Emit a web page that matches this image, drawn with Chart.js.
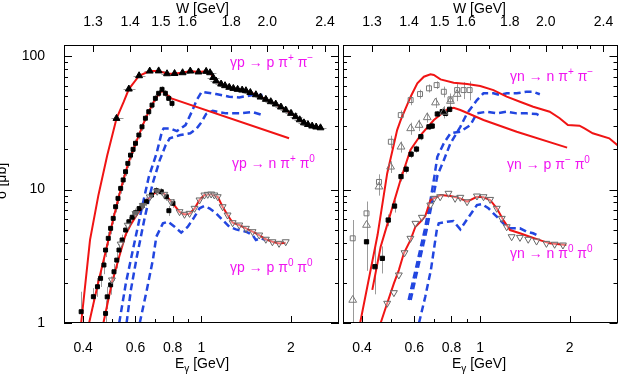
<!DOCTYPE html>
<html>
<head>
<meta charset="utf-8">
<script src="https://cdn.jsdelivr.net/npm/chart.js@4.4.0/dist/chart.umd.min.js"></script>
<style>
html, body { margin: 0; padding: 0; background: #fff; }
#wrap { position: relative; width: 623px; height: 374px; overflow: hidden; }
canvas { position: absolute; left: 0; top: 0; }
</style>
</head>
<body>
<div id="wrap">
  <canvas id="leftPanel" width="623" height="374"></canvas>
  <canvas id="rightPanel" width="623" height="374"></canvas>
</div>
<script>
// axis ranges and tick lists
const E_MIN = 0.345, E_MAX = 2.9, S_MIN = 1, S_MAX = 121;
const xTicks = [0.4, 0.5, 0.6, 0.7, 0.8, 0.9, 1, 2];
const xLabels = [0.4, 0.6, 0.8, 1, 2];
const wTicks = [1.3, 1.4, 1.5, 1.6, 1.7, 1.8, 1.9, 2.0, 2.1, 2.2, 2.3, 2.4];
const wLabels = [1.3, 1.4, 1.5, 1.6, 1.8, 2.0, 2.4];
const yTicks = [1, 2, 3, 4, 5, 6, 7, 8, 9, 10, 20, 30, 40, 50, 60, 70, 80, 90, 100];
const yLabels = [1, 10, 100];
const M_P = 0.938;
const wToE = w => (w * w - M_P * M_P) / (2 * M_P);

// ---- left panel: proton target ----
// gamma p -> p pi+ pi-
const ppPipPimE = [0.518, 0.570, 0.617, 0.670, 0.718, 0.766, 0.812, 0.864, 0.917, 0.977, 1.037, 1.069, 1.095, 1.12, 1.164, 1.20, 1.24, 1.28, 1.323, 1.37, 1.411, 1.46, 1.524, 1.58, 1.646, 1.71, 1.777, 1.85, 1.92, 2.0, 2.073, 2.14, 2.211, 2.28, 2.356, 2.43, 2.513];
const ppPipPimS = [34.1, 56.6, 71.2, 77.2, 77.4, 73.7, 74, 75, 77.2, 76, 76.8, 75, 69, 65, 61.7, 60, 58.3, 57.2, 56.3, 55.6, 55, 53.3, 51.3, 49.3, 47.4, 45.5, 43.7, 41.5, 39.4, 37.2, 35.1, 33.3, 31.6, 30.7, 29.9, 29.4, 29.0];
const ppPipPimFitE = [0.394, 0.422, 0.45, 0.482, 0.518, 0.548, 0.570, 0.617, 0.670, 0.718, 0.766, 0.812, 0.864, 0.917, 0.977, 1.037, 1.069, 1.12, 1.164, 1.24, 1.323, 1.411, 1.524, 1.646, 1.777, 1.92, 2.073, 2.211, 2.356, 2.513];
const ppPipPimFitS = [1, 4.2, 9, 18, 34, 45.5, 56.6, 71.2, 77.2, 77.4, 73.7, 74, 75, 77.2, 76, 76.8, 75, 65, 61.7, 58.3, 56.3, 55, 51.3, 47.4, 43.7, 39.4, 35.1, 31.6, 29.9, 29.0];
const ppPipPimOldE = [0.529, 0.557, 0.588, 0.625, 0.665, 0.707, 0.737, 0.746, 0.786, 0.827, 0.884, 0.928, 0.964, 1.002, 1.05, 1.12, 1.24, 1.34, 1.485, 1.603];
const ppPipPimOldS = [1, 1.99, 3.52, 6.67, 12.4, 18.8, 27.4, 28.7, 28.7, 27.4, 30.4, 38.3, 46.8, 54.0, 53.1, 51.9, 49.6, 49.0, 51.0, 51.0];

// gamma p -> n pi+ pi0
const pnPipPi0E = [0.394, 0.433, 0.447, 0.458, 0.470, 0.476, 0.486, 0.495, 0.505, 0.5145, 0.524, 0.535, 0.5455, 0.5556, 0.5655, 0.5774, 0.589, 0.600, 0.616, 0.631, 0.648, 0.665, 0.682, 0.700, 0.718, 0.737, 0.756, 0.776, 0.796];
const pnPipPi0S = [1.215, 1.574, 1.87, 2.16, 2.72, 3.52, 4.31, 5.12, 6.08, 7.43, 8.59, 10.2, 11.8, 13.6, 15.7, 18.1, 20, 22.2, 25.6, 29.5, 34.2, 38.3, 42.9, 48.2, 52.6, 56.3, 52.6, 48.2, 44.2];
const pnPipPi0Err = [0.5, 0.25, 0.3, 0.3, 0.4, 0.4, 0.5, 0.5, 0.6, 0.7, 0.8, 0.9, 1, 1, 1.2, 1.3, 1.5, 1.5, 1.8, 2, 2, 2.5, 2.5, 3, 3, 3, 3, 3, 3];
const pnPipPi0FitE = [0.419, 0.447, 0.476, 0.505, 0.535, 0.566, 0.600, 0.648, 0.700, 0.737, 0.792, 1.97];
const pnPipPi0FitS = [1, 1.9, 3.4, 6.0, 10.0, 15.5, 22, 34, 48, 55, 48.2, 24.2];
const pnPipPi0OldE = [0.560, 0.579, 0.606, 0.645, 0.686, 0.724, 0.758, 0.782, 0.849, 0.917, 0.964, 1.002, 1.037, 1.091, 1.21, 1.34, 1.485, 1.603];
const pnPipPi0OldS = [1, 1.77, 3.12, 6.22, 11.2, 16.6, 21.5, 24.2, 25.6, 26.4, 28.7, 32.2, 36.8, 38.9, 37.2, 37.2, 38.1, 36.1];

// gamma p -> p pi0 pi0
const ppPi0Pi0E = [0.476, 0.482, 0.495, 0.508, 0.519, 0.528, 0.541, 0.556, 0.570, 0.585, 0.600, 0.617, 0.633, 0.653, 0.679, 0.705, 0.733, 0.762, 0.777, 0.802];
const ppPi0Pi0S = [1.18, 1.57, 1.93, 2.42, 2.96, 3.52, 4.19, 4.97, 5.74, 6.2, 6.7, 7.2, 7.6, 8.11, 9.09, 9.8, 9.63, 8.83, 6.94, 7.88];
const ppPi0Pi0Err = [0.3, 0.3, 0.3, 0.35, 0.4, 0.4, 0.4, 0.5, 0.5, 0.5, 0.5, 0.5, 0.5, 0.6, 0.6, 0.6, 0.6, 0.6, 0.6, 0.6];
const ppPi0Pi0bE = [0.50, 0.535, 0.565, 0.60, 0.635, 0.67, 0.71, 0.75, 0.79, 0.844, 0.877, 0.912, 0.948, 0.985, 1.023, 1.05, 1.078, 1.105, 1.134, 1.178, 1.224, 1.273, 1.34, 1.411, 1.485, 1.564, 1.646, 1.732, 1.823, 1.92];
const ppPi0Pi0bS = [2.1, 3.9, 5.4, 6.6, 7.6, 8.8, 9.7, 9.2, 8.1, 6.82, 6.52, 6.63, 7.23, 8.35, 9.09, 9.2, 9.25, 9.1, 8.83, 7.43, 6.44, 5.64, 5.42, 5.12, 4.83, 4.56, 4.24, 4.06, 3.95, 4.06];
const ppPi0Pi0FitE = [0.468, 0.50, 0.528, 0.556, 0.577, 0.62, 0.656, 0.69, 0.72, 0.75, 0.80, 0.844, 0.877, 0.912, 0.948, 0.985, 1.023, 1.078, 1.134, 1.178, 1.224, 1.273, 1.340, 1.411, 1.485, 1.564, 1.646, 1.732, 1.823, 1.92];
const ppPi0Pi0FitS = [1, 2.0, 3.1, 4.6, 5.4, 7.0, 8.3, 9.3, 9.7, 9.3, 7.9, 6.8, 6.5, 6.6, 7.2, 8.35, 9.09, 9.25, 8.83, 7.43, 6.44, 5.64, 5.42, 5.12, 4.83, 4.56, 4.24, 4.06, 3.95, 4.0];
const ppPi0Pi0OldE = [0.620, 0.655, 0.687, 0.705, 0.742, 0.772, 0.812, 0.855, 0.900, 0.948, 0.985, 1.023, 1.063, 1.12, 1.178, 1.24, 1.306, 1.411, 1.485, 1.524, 1.584, 1.646];
const ppPi0Pi0OldS = [1, 1.77, 3.0, 4.43, 5.58, 5.74, 5.26, 4.75, 5.26, 6.26, 7.23, 7.52, 7.23, 6.63, 5.91, 5.26, 5.03, 4.83, 4.56, 4.19, 4.31, 4.19];

// ---- right panel: neutron target ----
// gamma n -> n pi+ pi-
const nnPipPimE = [0.372, 0.414, 0.456, 0.5, 0.540, 0.583, 0.627, 0.672, 0.713, 0.754, 0.794, 0.836, 0.879, 0.921];
const nnPipPimS = [4.31, 6.63, 11.4, 22.8, 36.1, 46.8, 51.9, 57.3, 60.6, 54.0, 47.4, 55.6, 55.6, 55.6];
const nnPipPimErr = [1.6, 1.5, 1.6, 2.5, 3, 4, 4, 4, 4, 5, 5, 6, 8, 9];
const nnPipPimFitE = [0.394, 0.451, 0.486, 0.525, 0.540, 0.583, 0.614, 0.646, 0.680, 0.698, 0.735, 0.814, 0.903, 1.0, 1.108, 1.228, 1.361, 1.508, 1.714, 1.852, 1.974, 2.16, 2.245, 2.393, 2.72, 2.90];
const nnPipPimFitS = [1, 4.56, 13.2, 27.9, 33.2, 49.6, 62.4, 70.0, 72.9, 72.1, 66.9, 63.1, 61.7, 59.6, 55.6, 49.6, 45.5, 41.7, 38.3, 34.2, 30.4, 30.1, 28.7, 26.4, 24.2, 21.5];
const nnPipPimOldE = [0.583, 0.620, 0.660, 0.691, 0.718, 0.754, 0.794, 0.857, 0.903, 0.975, 1.026, 1.108, 1.166, 1.228, 1.327, 1.433, 1.508, 1.588];
const nnPipPimOldS = [1.487, 2.72, 4.97, 8.35, 12.8, 16.6, 22.2, 29.5, 37.2, 46.8, 52.6, 52.6, 51.0, 52.6, 52.6, 54.0, 54.0, 51.7];

// gamma n -> p pi- pi0
const npPimPi0aE = [0.372, 0.414, 0.456, 0.499, 0.541, 0.583, 0.622, 0.663, 0.707, 0.754, 0.794, 0.836];
const npPimPi0aS = [1.487, 5.42, 10.5, 14.8, 20.9, 28.7, 30.4, 34.7, 44.8, 38.1, 46.0, 51.9];
const npPimPi0aErr = [1.3, 1.2, 1.5, 1.5, 2, 3, 3, 3, 4, 4, 5, 6];
const npPimPi0bE = [0.414, 0.442, 0.468, 0.490, 0.5145, 0.541, 0.563, 0.585, 0.610, 0.631, 0.672, 0.689, 0.717, 0.745, 0.764, 0.789];
const npPimPi0bS = [4.06, 2.64, 3.05, 5.91, 7.52, 12.5, 14.2, 18.4, 20.1, 24.9, 29.5, 29.9, 36.8, 38.3, 37.2, 39.9];
const npPimPi0bErr = [1.6, 1.0, 0.7, 0.6, 0.8, 1, 1, 1.2, 1.2, 1.5, 1.5, 1.5, 2, 2, 2, 2];
const npPimPi0FitE = [0.433, 0.462, 0.499, 0.539, 0.582, 0.630, 0.698, 0.774, 0.814, 0.857, 1.026, 1.327, 1.962];
const npPimPi0FitS = [1.77, 3.73, 6.63, 11.8, 19.8, 25.6, 33.2, 39.9, 41.0, 39.4, 33.2, 27.1, 20.6];
const npPimPi0OldE = [0.574, 0.611, 0.650, 0.680, 0.702, 0.717, 0.754, 0.794, 0.857, 0.926, 0.975, 1.053, 1.137, 1.228, 1.327, 1.433, 1.548, 1.609];
const npPimPi0OldS = [1.487, 2.72, 4.97, 8.35, 12.8, 17.6, 22.2, 26.4, 27.1, 30.4, 37.2, 38.3, 37.2, 38.3, 37.2, 37.2, 36.8, 35.1];

// gamma n -> n pi0 pi0
const nnPi0Pi0E = [0.486, 0.512, 0.532, 0.556, 0.582, 0.605, 0.636, 0.679, 0.699, 0.733, 0.782, 0.823, 0.857, 0.903, 0.975, 1.026, 1.08, 1.137, 1.182, 1.228, 1.276, 1.361, 1.451, 1.548, 1.671, 1.781, 1.899];
const nnPi0Pi0S = [1.405, 1.687, 2.29, 3.36, 4.31, 5.58, 6.19, 7.65, 8.59, 8.83, 9.37, 8.59, 8.74, 8.1, 8.94, 8.83, 8.43, 7.23, 6.08, 5.26, 4.43, 4.38, 4.24, 4.11, 3.95, 3.89, 3.84];
const nnPi0Pi0FitE = [0.462, 0.486, 0.512, 0.532, 0.553, 0.582, 0.605, 0.629, 0.653, 0.680, 0.735, 0.794, 0.857, 0.903, 0.975, 1.026, 1.08, 1.137, 1.196, 1.26, 1.361, 1.469, 1.588, 1.714, 1.95];
const nnPi0Pi0FitS = [1, 1.405, 1.98, 2.49, 3.33, 4.18, 5.26, 5.74, 6.33, 8.35, 9.09, 8.94, 8.59, 8.1, 8.83, 8.74, 8.35, 7.23, 5.91, 4.97, 4.70, 4.43, 4.18, 3.95, 3.84];
const nnPi0Pi0OldE = [0.622, 0.653, 0.682, 0.714, 0.725, 0.774, 0.812, 0.857, 0.903, 0.975, 1.013, 1.066, 1.137, 1.196, 1.26, 1.361, 1.433, 1.508, 1.588];
const nnPi0Pi0OldS = [1, 1.574, 2.49, 4.97, 5.58, 5.74, 5.81, 5.03, 5.98, 7.65, 7.79, 7.23, 6.26, 5.58, 5.12, 5.12, 4.83, 4.70, 4.43];

const RED = '#f01414';
const BLUE = '#2246e0';
const MAGENTA = '#f014f0';
const FONT = '"Liberation Sans", Arial, sans-serif';
Chart.defaults.font.family = FONT;

const pts = (xs, ys) => xs.map((x, i) => ({ x: x, y: ys[i] }));

function fitLine(xs, ys) {
    return { data: pts(xs, ys), borderColor: RED, borderWidth: 2, pointRadius: 0, tension: 0, order: 2 };
}
function oldLine(xs, ys) {
    return { data: pts(xs, ys), borderColor: BLUE, borderWidth: 2.5, borderDash: [7, 4], pointRadius: 0, tension: 0, order: 3 };
}
function marks(xs, ys, style, extra) {
    return Object.assign({
        data: pts(xs, ys), showLine: false, pointStyle: style, pointRadius: 3,
        pointBackgroundColor: '#000', pointBorderColor: '#000', pointBorderWidth: 1, order: 1
    }, extra || {});
}
const openDown = { pointRadius: 4, pointRotation: 180, pointBackgroundColor: 'rgba(255,255,255,0.4)', pointBorderColor: '#666', order: 0 };

function scalesFor(showY) {
    return {
        x: {
            type: 'logarithmic', position: 'bottom', min: E_MIN, max: E_MAX, bounds: 'data',
            afterBuildTicks: s => { s.ticks = xTicks.map(v => ({ value: v })); },
            afterFit: s => { s.height = 51; },
            grid: { display: false }, border: { display: false },
            ticks: { autoSkip: false, maxRotation: 0, padding: 9, color: '#000', font: { size: 14 },
                callback: v => xLabels.includes(v) ? String(v) : '' }
        },
        x2: {
            type: 'logarithmic', position: 'top', min: E_MIN, max: E_MAX, bounds: 'data',
            afterBuildTicks: s => { s.ticks = wTicks.map(w => ({ value: wToE(w) })); },
            afterFit: s => { s.height = 45; },
            grid: { display: false }, border: { display: false },
            ticks: { autoSkip: false, maxRotation: 0, padding: 6, color: '#000', font: { size: 14 },
                callback: (v, i) => wLabels.includes(wTicks[i]) ? wTicks[i].toFixed(1) : '' }
        },
        y: {
            type: 'logarithmic', min: S_MIN, max: S_MAX, bounds: 'data',
            afterBuildTicks: s => { s.ticks = yTicks.map(v => ({ value: v })); },
            afterFit: s => { s.width = showY ? 64 : 0; },
            grid: { display: false }, border: { display: false },
            ticks: { display: showY, autoSkip: false, padding: 11, color: '#000', font: { size: 14 },
                callback: v => yLabels.includes(v) ? String(v) : '' }
        }
    };
}

// vertical error bars and horizontal bin bars, under the markers
const errorBars = {
    id: 'errorBars',
    beforeDatasetsDraw(chart) {
        const { ctx, chartArea: a, scales: { x, y } } = chart;
        ctx.save();
        ctx.beginPath();
        ctx.rect(a.left, a.top, a.right - a.left, a.bottom - a.top);
        ctx.clip();
        ctx.strokeStyle = '#9a9a9a';
        ctx.lineWidth = 1;
        ctx.beginPath();
        chart.data.datasets.forEach(ds => {
            if (!ds.err && !ds.hbar) return;
            ds.data.forEach((p, i) => {
                const px = Math.round(x.getPixelForValue(p.x)) + 0.5;
                const py = y.getPixelForValue(p.y);
                if (ds.err) {
                    const e = ds.err[i];
                    ctx.moveTo(px, y.getPixelForValue(p.y + e));
                    ctx.lineTo(px, y.getPixelForValue(Math.max(p.y - e, 0.05)));
                }
                if (ds.hbar) {
                    ctx.moveTo(px - ds.hbar, Math.round(py) + 0.5);
                    ctx.lineTo(px + ds.hbar, Math.round(py) + 0.5);
                }
            });
        });
        ctx.stroke();
        ctx.restore();
    }
};

function drawParts(ctx, x, y, parts) {
    let cx = x;
    parts.forEach(([t, sup, sub]) => {
        ctx.font = (sup || sub ? '10px ' : '14px ') + FONT;
        ctx.fillText(t, cx, sup ? y - 6 : (sub ? y + 4 : y));
        cx += ctx.measureText(t).width;
    });
}

function decor(labels, titleX) {
    return {
        id: 'decor',
        afterDraw(chart) {
            const { ctx, chartArea: a, scales } = chart;
            ctx.save();
            ctx.strokeStyle = '#000';
            ctx.lineWidth = 1;
            ctx.beginPath();
            scales.x.ticks.forEach(t => {
                const p = Math.round(scales.x.getPixelForValue(t.value)) + 0.5;
                const len = xLabels.includes(t.value) ? 7 : 4;
                ctx.moveTo(p, a.bottom); ctx.lineTo(p, a.bottom - len);
            });
            scales.x2.ticks.forEach((t, i) => {
                const p = Math.round(scales.x2.getPixelForValue(t.value)) + 0.5;
                const len = wLabels.includes(wTicks[i]) ? 7 : 4;
                ctx.moveTo(p, a.top); ctx.lineTo(p, a.top + len);
            });
            scales.y.ticks.forEach(t => {
                const p = Math.round(scales.y.getPixelForValue(t.value)) + 0.5;
                const len = yLabels.includes(t.value) ? 8 : 4;
                ctx.moveTo(a.left, p); ctx.lineTo(a.left + len, p);
                ctx.moveTo(a.right, p); ctx.lineTo(a.right - len, p);
            });
            ctx.stroke();
            ctx.strokeRect(Math.round(a.left) + 0.5, Math.round(a.top) + 0.5,
                Math.round(a.right - a.left) - 1, Math.round(a.bottom - a.top) - 1);

            // axis titles
            ctx.fillStyle = '#000';
            ctx.textBaseline = 'alphabetic';
            ctx.textAlign = 'left';
            drawParts(ctx, titleX, 13, [['W [GeV]']]);
            drawParts(ctx, titleX - 1, 368, [['E'], ['γ', false, true], [' [GeV]']]);

            // reaction labels
            ctx.fillStyle = MAGENTA;
            labels.forEach(l => drawParts(ctx, l.x, l.y, l.parts));
            ctx.restore();
        }
    };
}

const yTitle = {
    id: 'yTitle',
    afterDraw(chart) {
        const ctx = chart.ctx;
        ctx.save();
        ctx.translate(6, 181);
        ctx.rotate(-Math.PI / 2);
        ctx.fillStyle = '#000';
        ctx.textAlign = 'center';
        ctx.font = '14px ' + FONT;
        ctx.fillText('σ [μb]', 0, 0);
        ctx.restore();
    }
};

const baseOptions = (showY, padding) => ({
    responsive: false,
    animation: false,
    events: [],
    layout: { padding: padding },
    plugins: { legend: { display: false }, tooltip: { enabled: false } },
    scales: scalesFor(showY)
});

new Chart(document.getElementById('leftPanel').getContext('2d'), {
    type: 'line',
    data: {
        datasets: [
            marks(ppPipPimE, ppPipPimS, 'triangle', { pointRadius: 4, hbar: 6 }),
            marks(pnPipPi0E, pnPipPi0S, 'rect', { pointRadius: 2.8, err: pnPipPi0Err }),
            marks(ppPi0Pi0E, ppPi0Pi0S, 'rect', { pointRadius: 2.8, err: ppPi0Pi0Err }),
            marks(ppPi0Pi0bE, ppPi0Pi0bS, 'triangle', openDown),
            fitLine(ppPipPimFitE, ppPipPimFitS),
            fitLine(pnPipPi0FitE, pnPipPi0FitS),
            fitLine(ppPi0Pi0FitE, ppPi0Pi0FitS),
            oldLine(ppPipPimOldE, ppPipPimOldS),
            oldLine(pnPipPi0OldE, pnPipPi0OldS),
            oldLine(ppPi0Pi0OldE, ppPi0Pi0OldS)
        ]
    },
    options: baseOptions(true, { left: 0, right: 284, top: 0, bottom: 0 }),
    plugins: [errorBars, yTitle, decor([
        { x: 230, y: 67, parts: [['γp → p π'], ['+', true], [' π'], ['−', true]] },
        { x: 232, y: 168, parts: [['γp → n π'], ['+', true], [' π'], ['0', true]] },
        { x: 230, y: 272, parts: [['γp → p π'], ['0', true], [' π'], ['0', true]] }
    ], 176)]
});

new Chart(document.getElementById('rightPanel').getContext('2d'), {
    type: 'line',
    data: {
        datasets: [
            marks(nnPipPimE, nnPipPimS, 'rect', { pointRadius: 3.5, pointBackgroundColor: 'rgba(255,255,255,0)', pointBorderColor: '#777', err: nnPipPimErr }),
            marks(npPimPi0aE, npPimPi0aS, 'triangle', { pointRadius: 4.5, pointBackgroundColor: 'rgba(255,255,255,0)', pointBorderColor: '#777', err: npPimPi0aErr }),
            marks(npPimPi0bE, npPimPi0bS, 'rect', { pointRadius: 3, err: npPimPi0bErr }),
            marks(nnPi0Pi0E, nnPi0Pi0S, 'triangle', openDown),
            fitLine(nnPipPimFitE, nnPipPimFitS),
            fitLine(npPimPi0FitE, npPimPi0FitS),
            fitLine(nnPi0Pi0FitE, nnPi0Pi0FitS),
            oldLine(nnPipPimOldE, nnPipPimOldS),
            oldLine(npPimPi0OldE, npPimPi0OldS),
            oldLine(nnPi0Pi0OldE, nnPi0Pi0OldS)
        ]
    },
    options: baseOptions(false, { left: 343, right: 4, top: 0, bottom: 0 }),
    plugins: [errorBars, decor([
        { x: 510, y: 81, parts: [['γn → n π'], ['+', true], [' π'], ['−', true]] },
        { x: 507, y: 169, parts: [['γn → p π'], ['−', true], [' π'], ['0', true]] },
        { x: 510, y: 258, parts: [['γn → n π'], ['0', true], [' π'], ['0', true]] }
    ], 453)]
});
</script>
</body>
</html>
